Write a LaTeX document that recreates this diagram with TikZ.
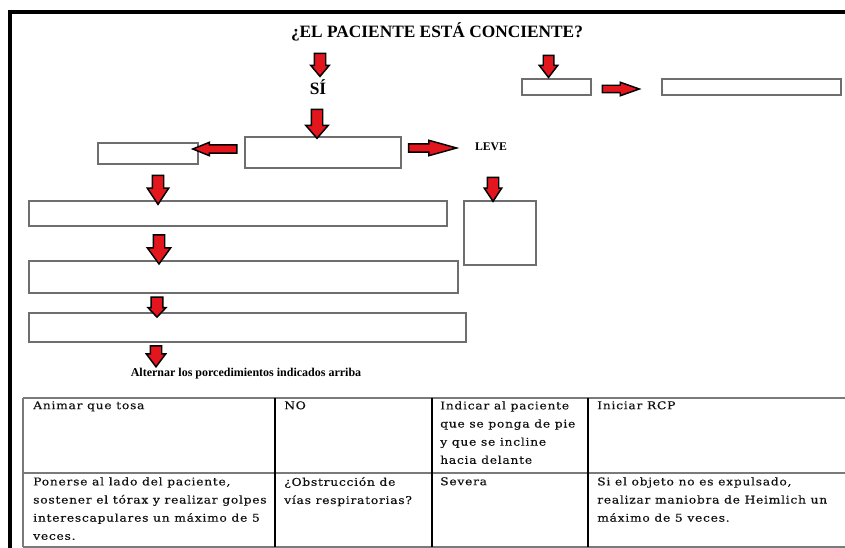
\documentclass[tikz,border=0pt]{standalone}
\usepackage{fontspec}
\setmainfont{Liberation Serif}
\newfontfamily\tabfont[FakeStretch=1.15, LetterSpace=7, FakeBold=0.4]{DejaVu Serif}
\usetikzlibrary{shapes.arrows}
\definecolor{arrred}{HTML}{E3161E}
\definecolor{boxgray}{HTML}{6E6E6E}
\definecolor{linegray}{HTML}{7A7A7A}
\definecolor{txtgray}{HTML}{111111}
\tikzset{
  box/.style={draw=boxgray, line width=1.1pt, inner sep=0pt},
  barrow/.style={single arrow, draw=black, fill=arrred, line width=1.1pt, inner xsep=0pt},
  lbl/.style={font=\bfseries, inner sep=0pt},
  cell/.style={anchor=north west, inner sep=0pt, align=left, text=txtgray,
    font=\tabfont\fontsize{8pt}{13.6pt}\selectfont}
}
\begin{document}
\begin{tikzpicture}[x=0.75pt,y=-0.75pt]
\useasboundingbox (0,0) rectangle (845,548);
\clip (0,0) rectangle (845,548);
% outer frame
\draw[line width=3pt] (10,600) -- (10,12) -- (900,12);

% title and labels
\node[lbl, font=\bfseries\fontsize{13pt}{15pt}\selectfont] (title) at (437,32) {¿EL PACIENTE ESTÁ CONCIENTE?};
\node[lbl, font=\bfseries\fontsize{13pt}{15pt}\selectfont] (si) at (318,87) {SÍ};
\node[lbl, font=\bfseries\fontsize{8.8pt}{10pt}\selectfont] (leve) at (491,147) {LEVE};
\node[lbl, font=\bfseries\fontsize{9pt}{10pt}\selectfont] (alt) at (246,374) {Alternar los porcedimientos indicados arriba};

% boxes
\node[box, minimum width=117pt, minimum height=23.25pt] (bmain) at (323,152.5) {};
\node[box, minimum width=75pt, minimum height=15.75pt] (bleft) at (148,153.5) {};
\node[box, minimum width=54pt, minimum height=48pt] (bleve) at (500,233) {};
\node[box, minimum width=51.75pt, minimum height=12pt] (btr1) at (556.5,87) {};
\node[box, minimum width=134.25pt, minimum height=12pt] (btr2) at (751.5,87) {};
\node[box, minimum width=313.5pt, minimum height=18.75pt] (ba) at (238,213.5) {};
\node[box, minimum width=321.75pt, minimum height=24pt] (bb) at (243.5,277) {};
\node[box, minimum width=327.75pt, minimum height=21.75pt] (bc) at (247.5,327.5) {};

% block arrows
\node[barrow, rotate=-90, minimum height=17.25pt, inner ysep=3.75pt, single arrow head extend=2.6pt, single arrow tip angle=80] (a1) at (320,61.5) {};
\node[barrow, rotate=-90, minimum height=21.75pt, inner ysep=3.75pt, single arrow head extend=4.1pt, single arrow tip angle=82] (a2) at (317,120.5) {};
\node[barrow, rotate=180, minimum height=33pt, inner ysep=2.6pt, single arrow head extend=1.9pt, single arrow tip angle=44] (aL) at (220,149) {};
\node[barrow, minimum height=36pt, inner ysep=2.6pt, single arrow head extend=2.6pt, single arrow tip angle=31] (aR) at (425,148) {};
\node[barrow, rotate=-90, minimum height=18pt, inner ysep=3.75pt, single arrow head extend=2.25pt, single arrow tip angle=67] (aLeve) at (493,185) {};
\node[barrow, rotate=-90, minimum height=16.5pt, inner ysep=3.4pt, single arrow head extend=3pt, single arrow tip angle=75] (aTR) at (548.5,63) {};
\node[barrow, minimum height=27.75pt, inner ysep=2.25pt, single arrow head extend=2.25pt, single arrow tip angle=39] (aTR2) at (615.5,89) {};
\node[barrow, rotate=-90, minimum height=21.75pt, inner ysep=3.75pt, single arrow head extend=3.75pt, single arrow tip angle=67] (aA) at (158,185.5) {};
\node[barrow, rotate=-90, minimum height=21.75pt, inner ysep=3.75pt, single arrow head extend=4.5pt, single arrow tip angle=72] (aB) at (159,245.5) {};
\node[barrow, rotate=-90, minimum height=15pt, inner ysep=3.9pt, single arrow head extend=2.25pt, single arrow tip angle=87] (aC) at (157,304) {};
\node[barrow, rotate=-90, minimum height=15.75pt, inner ysep=3.75pt, single arrow head extend=3pt, single arrow tip angle=74] (aD) at (156,352.5) {};

% table
\draw[linegray, line width=1.1pt] (23,398) -- (900,398);
\draw[linegray, line width=1.1pt] (23,473) -- (900,473);
\draw[linegray, line width=1.1pt] (23,547) -- (900,547);
\draw[linegray, line width=1.1pt] (23,398) -- (23,547);
\draw[black, line width=1pt] (275,398) -- (275,547);
\draw[black, line width=1pt] (432,398) -- (432,547);
\draw[black, line width=1pt] (588,398) -- (588,547);

\node[cell] (c11) at (33,401) {Animar que tosa};
\node[cell] (c12) at (284,401) {NO};
\node[cell] (c13) at (440,401) {Indicar al paciente\\que se ponga de pie\\y que se incline\\hacia delante};
\node[cell] (c14) at (597,401) {Iniciar RCP};
\node[cell] (c21) at (33,477) {Ponerse al lado del paciente,\\sostener el tórax y realizar golpes\\interescapulares un máximo de 5\\veces.};
\node[cell] (c22) at (284,477) {¿Obstrucción de\\vías respiratorias?};
\node[cell] (c23) at (440,477) {Severa};
\node[cell] (c24) at (597,477) {Si el objeto no es expulsado,\\realizar maniobra de Heimlich un\\máximo de 5 veces.};
\end{tikzpicture}
\end{document}
